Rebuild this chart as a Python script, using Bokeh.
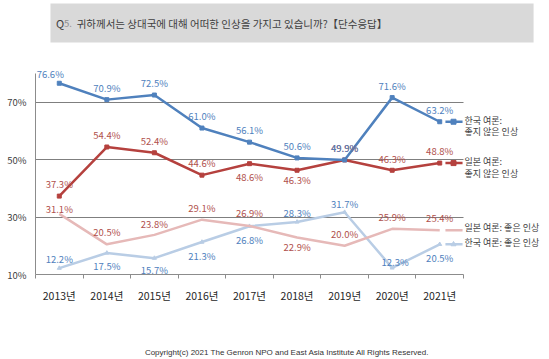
from bokeh.plotting import figure
from bokeh.layouts import column
from bokeh.models import ColumnDataSource, LabelSet, FixedTicker, Range1d
from bokeh.core.properties import value
from bokeh.embed import file_html
from bokeh.resources import INLINE

# ---- data ----
years = ["2013년", "2014년", "2015년", "2016년", "2017년", "2018년", "2019년", "2020년", "2021년"]
kr_bad = [76.6, 70.9, 72.5, 61.0, 56.1, 50.6, 49.9, 71.6, 63.2]
jp_bad = [37.3, 54.4, 52.4, 44.6, 48.6, 46.3, 49.9, 46.3, 48.8]
jp_good = [31.1, 20.5, 23.8, 29.1, 26.9, 22.9, 20.0, 25.9, 25.4]
kr_good = [12.2, 17.5, 15.7, 21.3, 26.8, 28.3, 31.7, 12.3, 20.5]
y_ticks = [10, 30, 50, 70]
y_min, y_max = 10, 80
legend_kr_bad = ["한국 여론:", "좋지 않은 인상"]
legend_jp_bad = ["일본 여론:", "좋지 않은 인상"]
legend_jp_good = ["일본 여론: 좋은 인상"]
legend_kr_good = ["한국 여론: 좋은 인상"]
title_parts = ["Q", "5.", "귀하께서는 상대국에 대해 어떠한 인상을 가지고 있습니까?【단수응답】"]
copyright_text = "Copyright(c) 2021 The Genron NPO and East Asia Institute  All Rights Reserved."

# ---- layout constants (pixels) ----
W = 549
TOP_H = 44
MAIN_H = 292
BOT_H = 23
FRAME_LEFT = 35
CAT_PX = 47.556          # width of one year slot
Y_PX = 2.8714            # pixels per percentage point
AXIS_TOP_PX = 29         # gap between frame top and the 80 % level
FRAME_BOTTOM_GAP = 62
KFONT = "Noto Sans CJK KR"

def bare(fig):
    fig.outline_line_color = None
    fig.grid.visible = False
    fig.background_fill_color = "white"
    fig.border_fill_color = "white"
    return fig

# ---- title strip ----
top = bare(figure(width=W, height=TOP_H, output_backend="svg", toolbar_location=None,
                  x_range=Range1d(0, W), y_range=Range1d(TOP_H, 0),
                  x_axis_location=None, y_axis_location=None, min_border=0))
top.quad(left=[16], right=[532], top=[3], bottom=[42], fill_color="#D9D9D9", line_color=None)
top.text(x=[22, 30.5, 44], y=[22.5, 23, 22.5], text=title_parts,
         text_font=value(KFONT),
         text_font_size=["11px", "9.5px", "10.5px"],
         text_color=["#404040", "#8C8C8C", "#404040"],
         text_align="left", text_baseline="middle")

# ---- main chart ----
n = len(years)
xs = [i + 0.5 for i in range(n)]
x_end = (W - FRAME_LEFT) / CAT_PX
y_top = y_max + AXIS_TOP_PX / Y_PX

p = figure(width=W, height=MAIN_H, output_backend="svg", toolbar_location=None,
           x_range=Range1d(0, x_end), y_range=Range1d(y_min, y_top),
           min_border_left=FRAME_LEFT, min_border_right=0, min_border_top=0,
           min_border_bottom=FRAME_BOTTOM_GAP)
bare(p)

xa = p.xaxis[0]
xa.bounds = (0, n)
xa.ticker = FixedTicker(ticks=xs, minor_ticks=list(range(n + 1)))
xa.major_label_overrides = {x: y for x, y in zip(xs, years)}
xa.major_tick_out = 0
xa.major_tick_in = 0
xa.minor_tick_out = 4
xa.minor_tick_in = 0
xa.minor_tick_line_color = "#8C8C8C"
xa.axis_line_color = "#8C8C8C"
xa.major_label_text_font = KFONT
xa.major_label_text_font_size = "10.5px"
xa.major_label_text_color = "#262626"
xa.major_label_standoff = 9

ya = p.yaxis[0]
ya.bounds = (y_min, y_max)
ya.ticker = FixedTicker(ticks=y_ticks)
ya.major_label_overrides = {t: f"{t}%" for t in y_ticks}
ya.major_tick_out = 0
ya.major_tick_in = 0
ya.minor_tick_out = 0
ya.minor_tick_in = 0
ya.axis_line_color = "#8C8C8C"
ya.major_label_text_font = KFONT
ya.major_label_text_font_size = "9.5px"
ya.major_label_text_color = "#404040"
ya.major_label_standoff = 9

p.ygrid.visible = True
p.ygrid.ticker = FixedTicker(ticks=y_ticks)
p.ygrid.cross_bounds = (0, n)
p.ygrid.grid_line_color = "#7F7F7F"
p.ygrid.grid_line_width = 1

# series: (values, line colour, label colour, marker, label offsets x, y, legend text offsets)
series = [
    (kr_good, "#B9CDE5", "#4F81BD", "triangle",
     [0, 0, 0, 0, 0, 0, 0, 3, 0], [9, -13, -12, -14, -14, 9, 8, 6, -14], [2]),
    (jp_good, "#E6B9B8", "#B0504C", None,
     [0, 0, 0, 0, 0, 0, 0, 0, 0], [5, 12, 11, 12, 13, -10, 12, 12, 12], [3]),
    (jp_bad, "#B5413E", "#B0504C", "square",
     [0, 0, 0, 0, 0, 0, 0, 0, 0], [12, 12, 12, 12, -13, -10, 12, 11, 12], [1.5, -10]),
    (kr_bad, "#4F81BD", "#4F81BD", "square",
     [-9, 0, 0, 0, 0, 0, 0, 0, 0], [9, 12, 12, 12, 12, 12, 12, 12, 12], [1.5, -10]),
]
legends = [legend_kr_good, legend_jp_good, legend_jp_bad, legend_kr_bad]

for (vals, lc, tc, mk, xo, yo, lyo), leg in zip(series, legends):
    src = ColumnDataSource(dict(x=xs, y=vals, t=[f"{v:.1f}%" for v in vals], xo=xo, yo=yo))
    p.line("x", "y", source=src, line_color=lc, line_width=2.5)
    if mk:
        p.scatter("x", "y", source=src, marker=mk, size=4, fill_color=lc, line_color=lc)
    p.add_layout(LabelSet(x="x", y="y", text="t", x_offset="xo", y_offset="yo", source=src,
                          text_font=value(KFONT), text_font_size="9.5px", text_color=tc,
                          text_align="center", text_baseline="middle"))
    # legend entry continuing from the last point
    last = vals[-1]
    p.line([xs[-1] + 0.12, xs[-1] + 0.48], [last, last], line_color=lc, line_width=2.5)
    if mk:
        p.scatter([xs[-1] + 0.29], [last], marker=mk, size=5, fill_color=lc, line_color=lc)
    p.text(x=[n + 0.02] * len(leg), y=[last] * len(leg), text=leg,
           y_offset=[-o for o in lyo],
           text_font=value(KFONT), text_font_size={"value": "9px"}, text_color="#404040",
           text_align="left", text_baseline="middle")

# ---- copyright strip ----
bot = bare(figure(width=W, height=BOT_H, output_backend="svg", toolbar_location=None,
                  x_range=Range1d(0, W), y_range=Range1d(BOT_H, 0),
                  x_axis_location=None, y_axis_location=None, min_border=0))
bot.text(x=[270], y=[16], text=[copyright_text],
         text_font=value("Liberation Sans"), text_font_size={"value": "8px"},
         text_color="#333333", text_align="center", text_baseline="middle")

layout = column(top, p, bot, spacing=0)
open("out.html", "w").write(file_html(layout, INLINE))
